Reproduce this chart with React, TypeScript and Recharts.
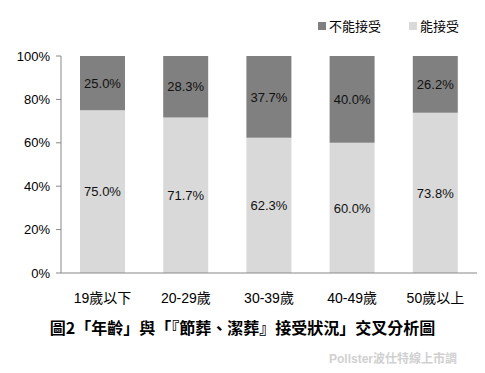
import React from "react";
import { BarChart, Bar, XAxis, YAxis, LabelList } from "recharts";

const ageGroups = ["19歲以下", "20-29歲", "30-39歲", "40-49歲", "50歲以上"];
const accept = [75.0, 71.7, 62.3, 60.0, 73.8];
const reject = [25.0, 28.3, 37.7, 40.0, 26.2];
const yTicks = [0, 20, 40, 60, 80, 100];

const data = ageGroups.map((g, i) => ({ group: g, accept: accept[i], reject: reject[i] }));

const font = '"Liberation Sans", Arial, "Noto Sans CJK TC", sans-serif';
const cjkFont = '"Noto Sans CJK TC", "Liberation Sans", sans-serif';
const DARK = "#808080";
const LIGHT = "#d9d9d9";

function LegendBox() {
  const item = (color: string, label: string, mr: number) => (
    <span style={{ display: "inline-flex", alignItems: "center", marginRight: mr }}>
      <span style={{ width: 8, height: 8, background: color, marginRight: 3, display: "inline-block" }} />
      <span style={{ fontSize: 13, color: "#000" }}>{label}</span>
    </span>
  );
  return (
    <div style={{ position: "absolute", top: 16, left: 318, fontFamily: font, display: "flex" }}>
      {item(DARK, "不能接受", 28)}
      {item(LIGHT, "能接受", 0)}
    </div>
  );
}

export default function App() {
  return (
    <div style={{ position: "absolute", left: 0, top: 0, width: 485, height: 373, background: "#fff", fontFamily: font }}>
      <BarChart
        width={485}
        height={373}
        data={data}
        margin={{ top: 56, right: 8, left: 0, bottom: 70 }}
        barSize={45}
      >
        <XAxis
          dataKey="group"
          tickLine={false}
          axisLine={{ stroke: "#888" }}
          tick={{ fontSize: 14, fill: "#000", fontFamily: font }}
          tickMargin={14}
          height={30}
        />
        <XAxis
          xAxisId="bounds"
          type="number"
          domain={[0, 5]}
          ticks={[0, 1, 2, 3, 4, 5]}
          tick={false}
          axisLine={false}
          tickLine={{ stroke: "#888" }}
          tickSize={4}
          height={0}
        />
        <YAxis
          type="number"
          domain={[0, 100]}
          ticks={yTicks}
          width={61}
          tickFormatter={(v: number) => `${v}%`}
          axisLine={{ stroke: "#888" }}
          tickLine={{ stroke: "#888" }}
          tickSize={5}
          tickMargin={6}
          tick={{ fontSize: 13, fill: "#000", fontFamily: font }}
        />
        <Bar dataKey="accept" stackId="a" fill={LIGHT} isAnimationActive={false}>
          <LabelList
            dataKey="accept"
            position="center"
            formatter={(v: number) => `${v.toFixed(1)}%`}
            style={{ fontSize: 13, fill: "#111", fontFamily: font }}
          />
        </Bar>
        <Bar dataKey="reject" stackId="a" fill={DARK} isAnimationActive={false}>
          <LabelList
            dataKey="reject"
            position="center"
            formatter={(v: number) => `${v.toFixed(1)}%`}
            style={{ fontSize: 13, fill: "#111", fontFamily: font }}
          />
        </Bar>
      </BarChart>
      <LegendBox />
      <div
        style={{
          position: "absolute",
          top: 317,
          left: 0,
          width: 485,
          textAlign: "center",
          fontSize: 16,
          fontWeight: "bold",
          color: "#000",
          fontFamily: cjkFont,
          lineHeight: "20px",
        }}
      >
        圖2「年齡」與「『節葬、潔葬』接受狀況」交叉分析圖
      </div>
      <div
        style={{
          position: "absolute",
          top: 349,
          right: 28,
          fontSize: 12,
          fontWeight: "bold",
          color: "#d0d0d0",
        }}
      >
        Pollster波仕特線上市調
      </div>
    </div>
  );
}
